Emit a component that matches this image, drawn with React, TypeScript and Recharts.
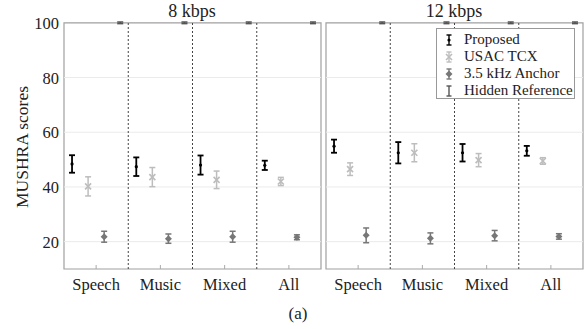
import React from "react";
import {
  ScatterChart,
  Scatter,
  XAxis,
  YAxis,
  ErrorBar,
  ReferenceLine,
  ReferenceArea,
  Legend,
} from "recharts";

const categories = ["Speech", "Music", "Mixed", "All"];
const yTicks = [20, 40, 60, 80, 100];
const gridTicks = [20, 40, 60, 80];
const seriesNames = ["Proposed", "USAC TCX", "3.5 kHz Anchor", "Hidden Reference"];
const seriesColors = ["#000000", "#bdbdbd", "#777777", "#555555"];

// 8 kbps
const proposed8 = [48.4, 47.4, 48.0, 47.9];
const proposed8Err = [3.2, 3.4, 3.5, 1.7];
const usac8 = [40.2, 43.6, 42.6, 42.0];
const usac8Err = [3.5, 3.5, 3.2, 1.5];
const anchor8 = [21.8, 21.1, 21.8, 21.6];
const anchor8Err = [2.0, 1.7, 2.0, 0.9];
const hidden8 = [100, 100, 100, 100];
const hidden8Err = [0.3, 0.3, 0.3, 0.3];

// 12 kbps
const proposed12 = [54.9, 52.5, 52.5, 53.2];
const proposed12Err = [2.4, 3.9, 3.2, 1.8];
const usac12 = [46.5, 52.5, 49.8, 49.5];
const usac12Err = [2.3, 3.3, 2.4, 1.2];
const anchor12 = [22.3, 21.2, 22.2, 21.9];
const anchor12Err = [2.7, 2.0, 1.9, 1.0];
const hidden12 = [100, 100, 100, 100];
const hidden12Err = [0.3, 0.3, 0.3, 0.3];

const FONT = "Liberation Serif, Times New Roman, serif";

// 4 series side by side inside each category slot
function toPoints(means: number[], errs: number[], slot: number) {
  return categories.map((_, i) => ({
    x: i + (slot + 0.5) / 4,
    y: means[i],
    err: errs[i],
  }));
}

function Marker(props: any) {
  const { cx, cy, slot } = props;
  if (cx == null || cy == null) return <g />;
  if (slot === 0) return <circle cx={cx} cy={cy} r={1.6} fill="#000" />;
  if (slot === 1)
    return (
      <g stroke={seriesColors[1]} strokeWidth={1.6}>
        <line x1={cx - 3} y1={cy - 3} x2={cx + 3} y2={cy + 3} />
        <line x1={cx - 3} y1={cy + 3} x2={cx + 3} y2={cy - 3} />
      </g>
    );
  if (slot === 2)
    return (
      <path
        d={`M${cx},${cy - 3.5} L${cx + 3.5},${cy} L${cx},${cy + 3.5} L${cx - 3.5},${cy} Z`}
        fill={seriesColors[2]}
      />
    );
  return <g />;
}

function BottomTick(props: any) {
  const { x, y, payload } = props;
  return (
    <g>
      <line x1={x} x2={x} y1={y} y2={y - 4} stroke="#aaa" />
      <text
        x={x}
        y={y + 21}
        textAnchor="middle"
        style={{ fontSize: 16.5, fontFamily: FONT, fill: "#222" }}
      >
        {categories[Math.floor(payload.value)]}
      </text>
    </g>
  );
}

function TopTick(props: any) {
  const { x, y } = props;
  return <line x1={x} x2={x} y1={y} y2={y + 4} stroke="#aaa" />;
}

function LeftTick(props: any) {
  const { x, y, payload } = props;
  return (
    <text
      x={x}
      y={y + 6}
      textAnchor="end"
      style={{ fontSize: 16.5, fontFamily: FONT, fill: "#222" }}
    >
      {payload.value}
    </text>
  );
}

function LegendBox() {
  return (
    <div
      style={{
        border: "1px solid #999",
        background: "#fff",
        width: 139,
        height: 71,
        boxSizing: "border-box",
        paddingTop: 2,
        fontFamily: FONT,
        fontSize: 15,
        color: "#222",
      }}
    >
      {seriesNames.map((name, j) => (
        <div key={name} style={{ display: "flex", alignItems: "center", height: 17 }}>
          <svg width={26} height={14} style={{ flex: "none" }}>
            <g stroke={seriesColors[j]} strokeWidth={1.4}>
              <line x1={12} x2={12} y1={2} y2={12} />
              <line x1={9.5} x2={14.5} y1={2} y2={2} />
              <line x1={9.5} x2={14.5} y1={12} y2={12} />
            </g>
            {j < 3 && <Marker cx={12} cy={7} slot={j} />}
          </svg>
          <span style={{ marginLeft: 1, whiteSpace: "nowrap" }}>{name}</span>
        </div>
      ))}
    </div>
  );
}

function Panel({
  data,
  width,
  margin,
  showY,
  legend,
}: {
  data: { means: number[]; errs: number[] }[];
  width: number;
  margin: { top: number; right: number; bottom: number; left: number };
  showY: boolean;
  legend?: boolean;
}) {
  return (
    <ScatterChart width={width} height={329} margin={margin}>
      <XAxis
        dataKey="x"
        type="number"
        domain={[0, 4]}
        ticks={[0.5, 1.5, 2.5, 3.5]}
        height={1}
        tickSize={0}
        tickMargin={0}
        axisLine={false}
        tickLine={false}
        tick={(p: any) => <BottomTick {...p} />}
        interval={0}
      />
      <XAxis
        xAxisId="top"
        orientation="top"
        type="number"
        domain={[0, 4]}
        ticks={[0.5, 1.5, 2.5, 3.5]}
        height={1}
        tickSize={0}
        tickMargin={0}
        axisLine={false}
        tickLine={false}
        tick={(p: any) => <TopTick {...p} />}
        interval={0}
      />
      <YAxis
        dataKey="y"
        type="number"
        domain={[10, 100]}
        ticks={yTicks}
        hide={!showY}
        width={50}
        tickSize={0}
        tickMargin={5}
        tickLine={false}
        axisLine={false}
        interval={0}
        tick={(p: any) => <LeftTick {...p} />}
      />
      {gridTicks.map((t) => (
        <ReferenceLine key={t} y={t} stroke="#ebebeb" strokeWidth={1} />
      ))}
      {[1, 2, 3].map((t) => (
        <ReferenceLine key={t} x={t} stroke="#444" strokeDasharray="2 2" strokeWidth={1} />
      ))}
      <ReferenceArea x1={0} x2={4} y1={10} y2={100} fill="none" stroke="#a0a0a0" strokeWidth={1.2} />
      {data.map((s, j) => (
        <Scatter
          key={seriesNames[j]}
          name={seriesNames[j]}
          data={toPoints(s.means, s.errs, j)}
          fill={seriesColors[j]}
          shape={(p: any) => <Marker {...p} slot={j} />}
          isAnimationActive={false}
        >
          <ErrorBar
            dataKey="err"
            direction="y"
            width={3}
            stroke={seriesColors[j]}
            strokeWidth={j === 0 ? 1.8 : 1.5}
            isAnimationActive={false}
          />
        </Scatter>
      ))}
      {legend && (
        <Legend
          layout="vertical"
          align="center"
          verticalAlign="middle"
          wrapperStyle={{ position: "absolute", left: 114, top: 28, width: 139 }}
          content={() => <LegendBox />}
        />
      )}
    </ScatterChart>
  );
}

export default function App() {
  const data8 = [
    { means: proposed8, errs: proposed8Err },
    { means: usac8, errs: usac8Err },
    { means: anchor8, errs: anchor8Err },
    { means: hidden8, errs: hidden8Err },
  ];
  const data12 = [
    { means: proposed12, errs: proposed12Err },
    { means: usac12, errs: usac12Err },
    { means: anchor12, errs: anchor12Err },
    { means: hidden12, errs: hidden12Err },
  ];
  return (
    <div
      style={{
        position: "absolute",
        left: 0,
        top: 0,
        width: 586,
        height: 329,
        background: "#fff",
        fontFamily: FONT,
        color: "#222",
        overflow: "hidden",
      }}
    >
      <div style={{ position: "absolute", left: 0, top: 0 }}>
        <Panel data={data8} width={330} margin={{ top: 21, right: 9, bottom: 59, left: 14 }} showY />
      </div>
      <div style={{ position: "absolute", left: 322, top: 0 }}>
        <Panel data={data12} width={264} margin={{ top: 21, right: 3, bottom: 59, left: 4 }} showY={false} legend />
      </div>
      <div style={{ position: "absolute", left: 142, top: 1, width: 100, textAlign: "center", fontSize: 18 }}>
        8 kbps
      </div>
      <div style={{ position: "absolute", left: 404, top: 1, width: 100, textAlign: "center", fontSize: 18 }}>
        12 kbps
      </div>
      <div
        style={{
          position: "absolute",
          left: 22,
          top: 147,
          fontSize: 17.5,
          fontFamily: FONT,
          whiteSpace: "nowrap",
          transform: "translate(-50%, -50%) rotate(-90deg)",
        }}
      >
        MUSHRA scores
      </div>
      <div style={{ position: "absolute", left: 278, top: 304, width: 40, textAlign: "center", fontSize: 17 }}>
        (a)
      </div>
    </div>
  );
}
